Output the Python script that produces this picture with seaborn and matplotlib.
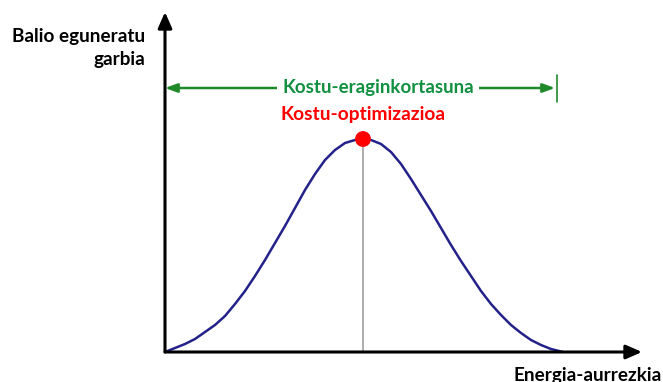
import numpy as np
import pandas as pd
import matplotlib
matplotlib.use('Agg')
import matplotlib.pyplot as plt
import seaborn as sns

sns.set_theme(style='white')
plt.rcParams['font.family'] = ['Lato', 'DejaVu Sans']

# curve (energy saving vs. net present value, arbitrary units)
energy_saving = [0, 10, 20, 30, 40, 50, 60, 70, 80, 90, 100, 110, 120, 130, 140, 150, 160, 170,
                 180, 190, 198, 206, 216, 226, 236, 246, 256, 266, 276, 286, 296, 306, 316,
                 326, 336, 346, 356, 366, 376, 386, 398]
npv = [0, 4, 8, 13, 20, 27, 36, 48, 61, 76, 92, 109, 126, 144, 162, 178, 192, 202,
       209, 212, 213, 212, 208, 200, 188, 173, 157, 141, 124, 107, 91, 76, 61,
       48, 37, 27, 19, 12, 7, 3, 0]
cost_eff_end = 390          # right end of the cost-effectiveness range
x_max, y_max = 477, 340

y_label = 'Balio eguneratu\ngarbia'
x_label = 'Energia-aurrezkia'
range_label = 'Kostu-eraginkortasuna'
opt_label = 'Kostu-optimizazioa'

df = pd.DataFrame({'x': energy_saving, 'y': npv})
peak = df.loc[df['y'].idxmax()]

fig = plt.figure(figsize=(6.63, 3.82), dpi=100)
ax = fig.add_axes([165 / 663, 30 / 382, 477 / 663, 340 / 382])
ax.set_xlim(0, x_max)
ax.set_ylim(0, y_max)
ax.axis('off')

# axes with arrows
arrow_kw = dict(arrowstyle='-|>,head_length=0.8,head_width=0.35', color='black', lw=2.2,
                shrinkA=0, shrinkB=0)
ax.annotate('', xy=(x_max, 0), xytext=(0, 0), arrowprops=arrow_kw, annotation_clip=False)
ax.annotate('', xy=(0, y_max), xytext=(0, 0), arrowprops=arrow_kw, annotation_clip=False)

# vertical line at the optimum
ax.plot([peak['x'], peak['x']], [0, peak['y']], color='#a0a0a0', lw=1.2, zorder=1)

sns.lineplot(data=df, x='x', y='y', ax=ax, color='#22228a', lw=1.8, zorder=2)
sns.scatterplot(x=[peak['x']], y=[peak['y']], ax=ax, color='#ff0000', s=130,
                edgecolor='none', zorder=3)

# cost-effectiveness range
green = '#1f8a2a'
y_rng = 264
ax.annotate('', xy=(0, y_rng), xytext=(cost_eff_end, y_rng),
            arrowprops=dict(arrowstyle='<|-|>,head_length=0.6,head_width=0.22', color=green,
                            lw=1.8, shrinkA=0, shrinkB=0))
ax.plot([cost_eff_end + 2, cost_eff_end + 2], [250, 277], color=green, lw=1.2)
ax.text(213, y_rng, range_label, color='#109040', fontsize=13.5, fontweight='bold',
        ha='center', va='center', bbox=dict(facecolor='white', edgecolor='none', pad=4))

ax.text(peak['x'], 237, opt_label, color='#ff0000', fontsize=13.8, fontweight='bold',
        ha='center', va='center')

fig.text(145 / 663, 1 - 48 / 382, y_label, ha='right', va='center', fontsize=13.6,
         fontweight='bold', color='black', linespacing=1.4)
fig.text(662 / 663, 1 - 375 / 382, x_label, ha='right', va='center', fontsize=13.6,
         fontweight='bold', color='black')

fig.savefig('out.png', dpi=100)
